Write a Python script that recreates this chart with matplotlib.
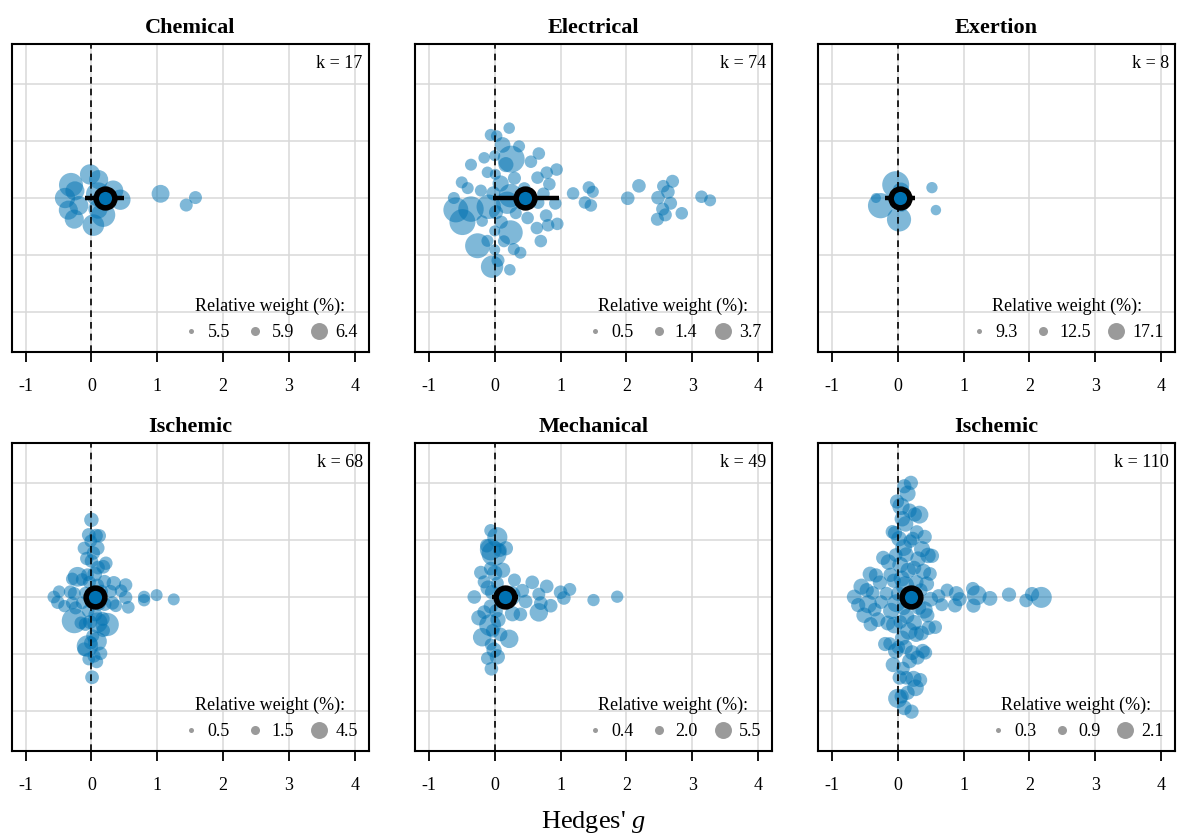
import numpy as np
import matplotlib.pyplot as plt
from matplotlib.lines import Line2D

plt.rcParams['font.family'] = ['Liberation Serif', 'DejaVu Serif']
plt.rcParams['axes.unicode_minus'] = False
plt.rcParams['mathtext.fontset'] = 'custom'
plt.rcParams['mathtext.rm'] = 'Liberation Serif'
plt.rcParams['mathtext.it'] = 'Liberation Serif:italic'

# ---------------------------------------------------------------- data
titles = ["Chemical", "Electrical", "Exertion", "Ischemic", "Mechanical", "Ischemic"]
k_vals = [17, 74, 8, 68, 49, 110]

chem_g = [-0.40, -0.35, -0.31, -0.26, -0.25, -0.19, -0.02, 0.03, 0.10, 0.10, 0.11,
          0.18, 0.33, 0.44, 1.05, 1.44, 1.58]
chem_w = [6.1, 6.0, 6.4, 6.0, 6.0, 6.0, 6.1, 6.2, 6.4, 6.0, 6.0,
          6.4, 6.1, 6.1, 5.9, 5.5, 5.5]

elec_g = [0.00, 0.00, 0.01, 0.25, 0.24, -0.09, -0.36, -0.59,
          -0.19, -0.16, 0.00, 0.14, 0.32, 0.22, 0.12, 0.29,
          -0.49, -0.26, -0.62, -0.41, -0.50, -0.36, -0.21, -0.11, 0.09, 0.19,
          0.24, -0.06, 0.17, 0.23, -0.04, 0.02, 0.03, -0.11, 0.37, 0.39,
          0.74, 0.94, 0.67, 0.83, 0.65, 0.78, 0.95, 0.64, 0.79, 0.66, 0.92, 0.70, 0.81,
          1.19, 1.37, 1.43, 1.46, 1.49,
          2.02, 2.19, 2.47, 2.48, 2.59, 2.63, 2.70, 2.67, 2.84, 2.55, 2.56, 3.14, 3.27,
          0.45, 0.50, 0.55, 0.30, 0.05, -0.02, 0.10]
elec_w = [0.6, 0.6, 0.6, 3.7, 3.0, 3.2, 3.4, 3.3,
          0.7, 0.7, 0.6, 0.8, 0.8, 0.7, 1.5, 0.8,
          3.5, 3.3, 0.8, 0.8, 0.8, 0.8, 0.8, 0.8, 1.6, 2.8,
          3.2, 0.8, 1.4, 0.7, 2.8, 1.2, 0.7, 0.7, 0.8, 0.8,
          0.9, 0.9, 0.9, 0.9, 0.9, 0.9, 0.9, 0.9, 0.9, 0.9, 0.9, 0.9, 0.9,
          0.9, 0.9, 0.9, 0.9, 0.8,
          1.1, 1.1, 1.0, 1.1, 1.0, 1.1, 1.0, 1.0, 0.9, 1.0, 0.9, 0.9, 0.8,
          0.9, 0.9, 0.9, 1.0, 1.0, 1.2, 1.0]

exer_g = [-0.33, -0.26, -0.03, 0.02, 0.05, 0.06, 0.52, 0.58]
exer_w = [9.3, 16.3, 17.1, 15.8, 12.5, 11.0, 9.9, 9.5]

isc1_g = [0.00, -0.04, -0.06, 0.09, 0.20, 0.17, 0.24, 0.09, -0.09, 0.02,
          -0.26, -0.11, 0.14, 0.37, 0.29, 0.56, -0.26, -0.14, 0.45, 0.80,
          0.80, 0.99, 1.25, -0.32, -0.49, -0.57, -0.41, -0.51, -0.29, -0.16,
          0.22, 0.34, 0.52, 0.52, -0.29, -0.11, 0.09, 0.32, -0.24, -0.14,
          -0.01, -0.21, -0.09, 0.09, -0.04, 0.18, 0.18, 0.20, -0.05, -0.06,
          0.02, 0.00, 0.05, 0.06, 0.03, -0.02, 0.10, 0.12, 0.00, -0.03,
          0.07, 0.15, 0.04, -0.07, 0.11, 0.01, 0.08, -0.01]
isc1_w = [1.2, 1.3, 3.5, 1.2, 1.1, 1.4, 4.0, 3.2, 1.0, 1.2,
          4.5, 1.1, 1.2, 1.0, 1.1, 1.0, 1.1, 1.0, 1.0, 0.9,
          0.9, 0.8, 0.8, 1.1, 0.9, 1.0, 0.9, 1.2, 1.0, 1.0,
          1.2, 1.5, 1.2, 1.2, 1.0, 1.3, 1.5, 1.2, 1.1, 1.0,
          1.0, 3.0, 1.2, 2.8, 1.0, 1.3, 1.2, 1.3, 1.0, 1.0,
          1.1, 1.1, 1.6, 1.3, 1.2, 1.4, 1.3, 1.2, 1.5, 1.1,
          1.3, 1.2, 1.1, 1.2, 1.4, 1.3, 1.1, 1.2]

mech_g = [-0.01, -0.06, 0.04, -0.05, -0.01, -0.06, -0.11, -0.16,
          0.24, 0.17, 0.42, 0.67, 0.79, 0.57, 0.70, 0.85, 1.05, 1.00, 1.14,
          1.50, 1.86, 0.67, 0.47, 0.39, 0.27,
          -0.31, -0.21, -0.24, -0.19, -0.16, 0.09, 0.22, 0.04, -0.06, -0.06,
          -0.07, -0.04, -0.06, 0.04,
          -0.10, -0.03, 0.00, 0.02, 0.05, 0.08, 0.12, 0.14, -0.12, 0.30]
mech_w = [5.5, 4.5, 4.0, 2.0, 2.5, 1.5, 1.8, 1.8,
          4.0, 2.2, 2.0, 3.5, 2.0, 2.0, 2.0, 2.0, 2.0, 2.0, 1.8,
          1.6, 1.6, 1.8, 2.0, 2.0, 2.5,
          2.0, 2.0, 2.5, 3.5, 2.0, 2.0, 3.5, 2.5, 2.0, 2.2,
          4.5, 2.2, 1.8, 1.8,
          2.5, 2.0, 2.5, 2.0, 2.5, 2.0, 2.5, 2.0, 2.0, 1.8]

isc2_g = [-0.66, -0.60, -0.55, -0.51, -0.47, -0.45, -0.42, -0.41, -0.38, -0.35,
          -0.33, -0.30, -0.27, -0.25, -0.22,
          -0.19, -0.17, -0.15, -0.14, -0.12, -0.11, -0.10, -0.08, -0.07, -0.06,
          -0.05, -0.04, -0.03, -0.03, -0.02, -0.01, 0.00, 0.01, 0.01, 0.02,
          0.03, 0.04, 0.04, 0.05, 0.06, 0.07, 0.07, 0.08, 0.09, 0.10,
          0.10, 0.11, 0.12, 0.12, 0.13, 0.14, 0.15, 0.15, 0.16, 0.17,
          0.18, 0.18, 0.19, 0.20, 0.21, 0.21, 0.22, 0.23, 0.24, 0.25,
          0.25, 0.26, 0.27, 0.28, 0.29, 0.30, 0.31, 0.32, 0.33, 0.34,
          0.35, 0.36, 0.37, 0.38, 0.39, 0.40, 0.41, 0.42, 0.44, 0.45,
          0.46, 0.47, 0.49, 0.50, 0.52, 0.06, 0.13, 0.20, 0.28, 0.09,
          0.57, 0.62, 0.67, 0.75, 0.87, 0.89, 0.94, 1.14, 1.15, 1.20,
          1.40, 1.69, 1.95, 2.04, 2.18]
isc2_w = [1.1, 1.0, 1.3, 1.2, 1.0, 1.6, 1.1, 1.0, 0.9, 0.9,
          1.0, 1.1, 1.0, 0.9, 1.0,
          1.0, 0.9, 1.1, 1.2, 0.8, 1.0, 1.3, 0.9, 1.1, 1.0,
          1.4, 1.0, 1.2, 0.9, 1.6, 1.0, 1.8, 1.1, 0.9, 1.2,
          1.0, 1.3, 0.9, 1.5, 1.0, 1.1, 1.2, 0.9, 1.4, 1.0,
          1.1, 1.7, 1.0, 1.2, 0.9, 1.1, 1.3, 1.0, 1.2, 1.5,
          1.0, 1.1, 0.9, 1.6, 1.0, 1.2, 1.1, 0.9, 1.3, 1.0,
          1.2, 1.0, 1.4, 1.1, 0.9, 1.0, 1.2, 1.1, 1.6, 1.0,
          0.9, 1.1, 1.3, 1.0, 1.2, 1.5, 1.0, 0.9, 1.1, 1.0,
          1.2, 1.0, 0.9, 1.1, 1.0, 1.3, 1.1, 1.0, 1.2, 0.9,
          0.9, 0.9, 0.8, 0.8, 1.0, 1.1, 1.0, 0.9, 1.0, 1.9,
          1.1, 1.0, 0.9, 1.0, 2.1]

effects = [chem_g, elec_g, exer_g, isc1_g, mech_g, isc2_g]
weights = [chem_w, elec_w, exer_w, isc1_w, mech_w, isc2_w]

means = [0.20, 0.46, 0.03, 0.06, 0.15, 0.20]
ci_lo = [-0.10, -0.03, -0.20, 0.00, -0.04, 0.14]
ci_hi = [0.50, 0.98, 0.27, 0.12, 0.36, 0.26]

legend_vals = [["5.5", "5.9", "6.4"], ["0.5", "1.4", "3.7"], ["9.3", "12.5", "17.1"],
               ["0.5", "1.5", "4.5"], ["0.4", "2.0", "5.5"], ["0.3", "0.9", "2.1"]]

# swarm width (y units) and point diameter range (px) per panel
swarm_width = [0.55, 1.35, 0.5, 1.45, 1.35, 2.15]
dot_range = [(13, 24), (11, 27), (10, 27), (12, 25), (12, 25), (13, 21)]

BLUE = '#0072B2'


def vdc(n, base=2):
    # van der Corput sequence, starting at 1
    out = []
    for i in range(1, n + 1):
        v, denom, k = 0.0, 1.0, i
        while k:
            k, r = divmod(k, base)
            denom *= base
            v += r / denom
        out.append(v)
    return np.array(out)


def quasi_offsets(g, width):
    g = np.asarray(g, dtype=float)
    n = len(g)
    sd = g.std(ddof=1)
    q75, q25 = np.percentile(g, [75, 25])
    bw = 0.9 * min(sd, (q75 - q25) / 1.34) * n ** -0.2
    dens = lambda x: np.exp(-0.5 * ((x[:, None] - g[None, :]) / bw) ** 2).sum(1)
    grid = np.linspace(g.min() - 3 * bw, g.max() + 3 * bw, 512)
    d = dens(g) / dens(grid).max()
    rank = np.argsort(np.argsort(g, kind='stable'), kind='stable')
    off = vdc(n)[rank]
    return (off - 0.5) * 2 * d * width


fig = plt.figure(figsize=(11.77, 8.38), dpi=100)
W, H = 1177, 838
col_left = [11.7, 415, 818]
row_top = [44, 443]
ax_w, ax_h = 357, 308

for i in range(6):
    r, c = divmod(i, 3)
    ax = fig.add_axes([col_left[c] / W, 1 - (row_top[r] + ax_h) / H, ax_w / W, ax_h / H])
    g = np.array(effects[i])
    w = np.array(weights[i])
    y = quasi_offsets(g, swarm_width[i])
    dmin, dmax = dot_range[i]
    d = dmin + (dmax - dmin) * (w - w.min()) / (w.max() - w.min())
    ax.scatter(g, y, s=(d * 0.72) ** 2, color=BLUE, alpha=0.5, linewidths=0, zorder=3)

    ax.axvline(0, color='black', lw=1.2, ls=(0, (4, 3)), zorder=4)
    ax.plot([ci_lo[i], ci_hi[i]], [0, 0], color='black', lw=3.2,
            solid_capstyle='butt', zorder=5)
    ax.plot(means[i], 0, 'o', ms=13.5, mfc=BLUE, mec='black', mew=4, zorder=6)

    ax.set_xlim(-1.21, 4.21)
    ax.set_ylim(-2.69, 2.69)
    ax.set_xticks(range(-1, 5))
    ax.set_yticks(range(-2, 3))
    ax.grid(color='#d9d9d9', lw=1.1, zorder=0)
    ax.set_axisbelow(True)
    ax.tick_params(axis='y', left=False, labelleft=False)
    ax.tick_params(axis='x', direction='out', length=7, width=1.3, pad=12, labelsize=13)
    for sp in ax.spines.values():
        sp.set_linewidth(1.5)
    ax.set_title(titles[i], fontsize=16, fontweight='bold', pad=8)
    ax.text(0.983, 0.938, "k = %d" % k_vals[i], transform=ax.transAxes,
            ha='right', va='center', fontsize=13)

    handles = [Line2D([], [], ls='', marker='o', ms=m, mfc='#9a9a9a', mec='none')
               for m in (3.6, 6.5, 12.2)]
    ax.legend(handles, legend_vals[i], title="Relative weight (%):", ncol=3,
              loc='lower right', frameon=False, fontsize=13, title_fontsize=13,
              handlelength=1.0, handletextpad=0.4, columnspacing=0.9,
              borderaxespad=0.3, borderpad=0.3)

fig.text(593 / W, 1 - 822 / H, r"Hedges' $g$", ha='center', va='center', fontsize=19)

fig.savefig('out.png', dpi=100)
